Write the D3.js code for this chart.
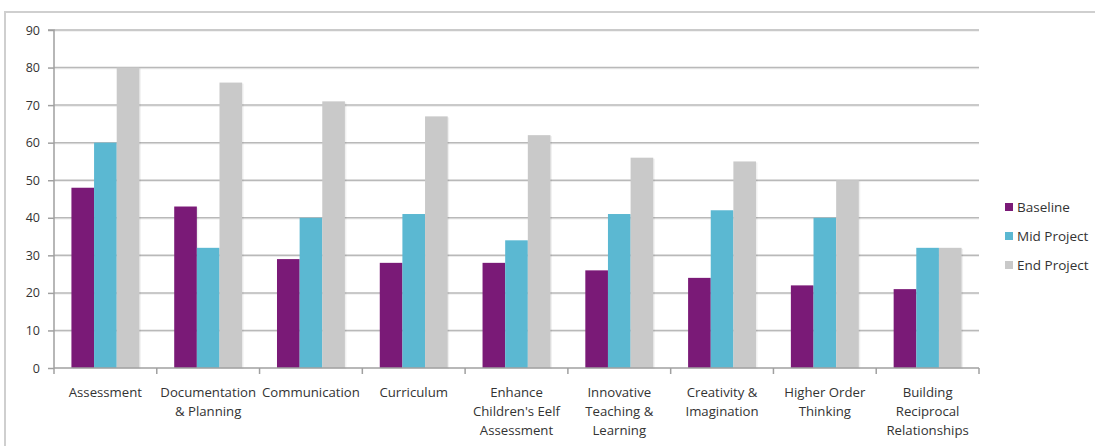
<!DOCTYPE html>
<html><head><meta charset="utf-8">
<script src="https://cdn.jsdelivr.net/npm/d3@7"></script>
<style>
html,body{margin:0;padding:0;background:#fff;overflow:hidden}
text{font-family:"Open Sans","Noto Sans",sans-serif;fill:#333}
</style></head>
<body>
<svg id="chart" width="1095" height="446"></svg>
<script>
const categories = [
  ["Assessment"],
  ["Documentation", "& Planning"],
  ["Communication"],
  ["Curriculum"],
  ["Enhance", "Children's Eelf", "Assessment"],
  ["Innovative", "Teaching &", "Learning"],
  ["Creativity &", "Imagination"],
  ["Higher Order", "Thinking"],
  ["Building", "Reciprocal", "Relationships"]
];
const seriesNames = ["Baseline", "Mid Project", "End Project"];
const baseline = [48, 43, 29, 28, 28, 26, 24, 22, 21];
const midProject = [60, 32, 40, 41, 34, 41, 42, 40, 32];
const endProject = [80, 76, 71, 67, 62, 56, 55, 50, 32];
const yTicks = [0, 10, 20, 30, 40, 50, 60, 70, 80, 90];
const colors = ["#7a1a77", "#5bb8d2", "#c9c9c9"];

const svg = d3.select("#chart");
// outer border
svg.append("rect").attr("x", 5).attr("y", 12).attr("width", 1200).attr("height", 600)
  .attr("fill", "none").attr("stroke", "#cfcfcf").attr("stroke-width", 2);

const pLeft = 54, pRight = 979, pTop = 30, pBottom = 368;
const ids = categories.map((c, i) => i);
const x = d3.scaleBand().domain(ids).range([pLeft, pRight]).paddingInner(0).paddingOuter(0);
const inner = d3.scaleBand().domain([0, 1, 2]).range([0, x.bandwidth()]).paddingInner(0).paddingOuter(0.77);
const y = d3.scaleLinear().domain([0, 90]).range([pBottom, pTop]);

// gridlines
const g = svg.append("g");
yTicks.filter(t => t > 0).forEach(t => {
  g.append("line").attr("x1", pLeft).attr("x2", pRight).attr("y1", y(t) + 1.2).attr("y2", y(t) + 1.2)
    .attr("stroke", "#ececec").attr("stroke-width", 1);
  g.append("line").attr("x1", pLeft).attr("x2", pRight).attr("y1", y(t)).attr("y2", y(t))
    .attr("stroke", "#b9b9b9").attr("stroke-width", 1.5);
});

// bars
const series = [baseline, midProject, endProject];
series.forEach((vals, s) => {
  svg.append("g").selectAll("rect").data(vals).join("rect")
    .attr("x", (d, i) => x(i) + inner(s) + 1.5)
    .attr("y", d => y(d) + 1)
    .attr("width", inner.bandwidth())
    .attr("height", d => y(0) - y(d))
    .attr("fill", "#000").attr("opacity", 0.06);
});
series.forEach((vals, s) => {
  svg.append("g").selectAll("rect").data(vals).join("rect")
    .attr("x", (d, i) => x(i) + inner(s))
    .attr("y", d => y(d))
    .attr("width", inner.bandwidth())
    .attr("height", d => y(0) - y(d))
    .attr("fill", colors[s]);
});

// y axis
const yAxis = d3.axisLeft(y).tickValues(yTicks).tickSize(6).tickPadding(8);
const ya = svg.append("g").attr("transform", `translate(${pLeft},0)`).call(yAxis);
ya.select(".domain").attr("stroke", "#a0a0a0").attr("stroke-width", 1.5).attr("d", `M-6,${pTop}H0V${pBottom}`);
ya.selectAll(".tick line").attr("stroke", "#a0a0a0").attr("stroke-width", 1.5);
ya.selectAll(".tick text").attr("font-size", 12.5).attr("fill", "#333")
  .style("font-family", '"Open Sans","Noto Sans",sans-serif');

// x axis line and ticks
const xa = svg.append("g").attr("transform", `translate(0,${pBottom})`);
xa.append("line").attr("x1", pLeft).attr("x2", pRight).attr("y1", 0).attr("y2", 0)
  .attr("stroke", "#a0a0a0").attr("stroke-width", 1.5);
ids.concat([ids.length]).forEach(i => {
  const xx = i < ids.length ? x(i) : pRight;
  xa.append("line").attr("x1", xx).attr("x2", xx).attr("y1", 0).attr("y2", 6)
    .attr("stroke", "#a0a0a0").attr("stroke-width", 1.5);
});
// x labels
ids.forEach(i => {
  const t = svg.append("text").attr("x", x(i) + x.bandwidth() / 2).attr("y", 397)
    .attr("text-anchor", "middle").attr("font-size", 13.2);
  categories[i].forEach((line, k) => {
    t.append("tspan").attr("x", x(i) + x.bandwidth() / 2).attr("dy", k === 0 ? 0 : 19).text(line);
  });
});

// legend
const lg = svg.append("g");
seriesNames.forEach((n, i) => {
  const yy = 208 + i * 29;
  lg.append("rect").attr("x", 1005).attr("y", yy - 5).attr("width", 8).attr("height", 8).attr("fill", colors[i]);
  lg.append("text").attr("x", 1017).attr("y", yy + 4).attr("font-size", 13.5).text(n);
});
</script>
</body></html>
